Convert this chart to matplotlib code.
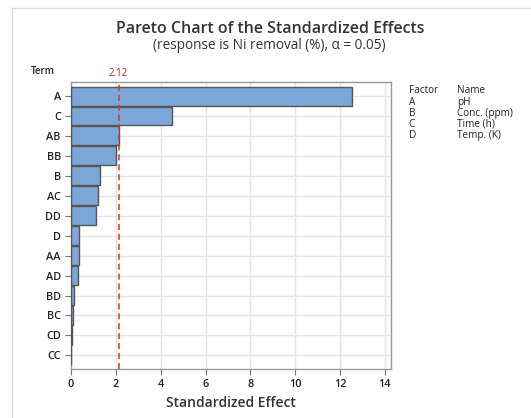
import numpy as np
import matplotlib.pyplot as plt
from matplotlib.lines import Line2D

plt.rcParams['font.family'] = ['Open Sans', 'DejaVu Sans']

# standardized effects, sorted largest first
terms = ['A', 'C', 'AB', 'BB', 'B', 'AC', 'DD', 'D', 'AA', 'AD', 'BD', 'BC', 'CD', 'CC']
effects = [12.53, 4.49, 2.13, 2.01, 1.29, 1.19, 1.10, 0.37, 0.34, 0.30, 0.12, 0.08, 0.04, 0.01]
t_crit = 2.12
xticks = [0, 2, 4, 6, 8, 10, 12, 14]

factors = ['A', 'B', 'C', 'D']
names = ['pH', 'Conc. (ppm)', 'Time (h)', 'Temp. (K)']

fig = plt.figure(figsize=(5.31, 4.18), dpi=100)
ax = fig.add_axes([0.1328, 0.1165, 0.603, 0.688])

y = np.arange(len(terms))
ax.barh(y, effects, height=0.95, color='#7aa6d8', edgecolor='#555555', linewidth=1.0, zorder=3)
ax.axvline(t_crit, color='#d9302c', linestyle=(0, (4, 2.5)), linewidth=1.1, zorder=4)

ax.set_xlim(-0.02, 14.26)
ax.set_ylim(len(terms) - 0.3, -0.72)
ax.set_yticks(y)
ax.set_yticklabels(terms)
ax.set_xticks(xticks)
ax.grid(True, color='#e4e4e4', linewidth=1.0, zorder=0)
ax.tick_params(axis='both', length=4, color='#777777', labelsize=7.8, pad=3)
for lab in ax.get_xticklabels() + ax.get_yticklabels():
    lab.set_fontweight('semibold')
    lab.set_color('#222222')
for sp in ax.spines.values():
    sp.set_color('#999999')
    sp.set_linewidth(1.0)

ax.set_xlabel('Standardized Effect', fontsize=10, fontweight='semibold', color='#333333', labelpad=4)
ax.text(t_crit, -0.85, '2.12', color='#b22222', fontsize=7, ha='center', va='bottom',
        transform=ax.transData)

fig.text(0.508, 0.93, 'Pareto Chart of the Standardized Effects', ha='center', va='center',
         fontsize=11.5, fontweight='semibold', color='#333333')
fig.text(0.508, 0.892, '(response is Ni removal (%), \u03b1 = 0.05)', ha='center', va='center',
         fontsize=9.8, color='#333333')
fig.text(0.058, 0.83, 'Term', fontsize=7, fontweight='semibold', color='#222222', va='center')

# factor key on the right, one text block per column
col1 = '\n'.join(['Factor'] + factors)
col2 = '\n'.join(['Name'] + names)
fig.text(0.77, 0.796, col1, fontsize=7.2, color='#222222', va='top', linespacing=1.03)
fig.text(0.86, 0.796, col2, fontsize=7.2, color='#222222', va='top', linespacing=1.03)

# outer frame lines
fig.add_artist(Line2D([12 / 531, 12 / 531], [0, 1 - 8 / 418], color='#dddddd', linewidth=1.0))
fig.add_artist(Line2D([12 / 531, 1], [1 - 8 / 418, 1 - 8 / 418], color='#dddddd', linewidth=1.0))

fig.savefig('out.png', dpi=100)
